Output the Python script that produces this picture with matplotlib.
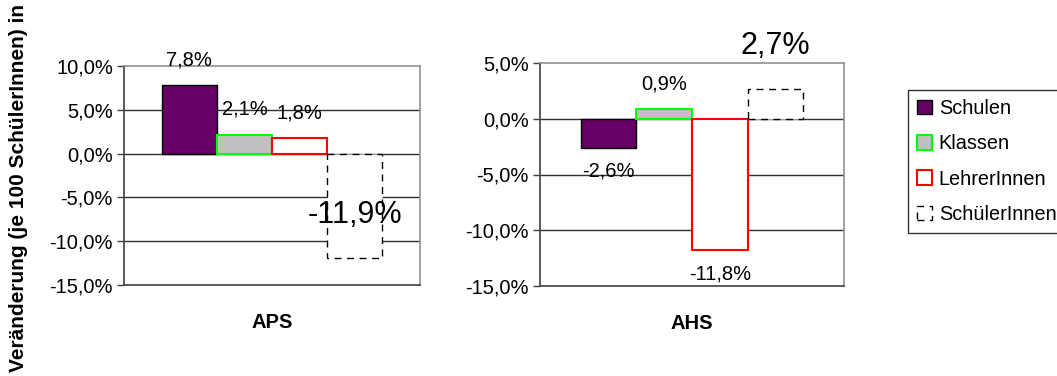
import matplotlib
matplotlib.use("Agg")
import matplotlib.pyplot as plt
from matplotlib.patches import Patch

plt.rcParams["font.family"] = ["Liberation Sans", "DejaVu Sans"]

# ---- data ----
series = ["Schulen", "Klassen", "LehrerInnen", "SchülerInnen"]
aps_values = [7.8, 2.1, 1.8, -11.9]
ahs_values = [-2.6, 0.9, -11.8, 2.7]
aps_labels = ["7,8%", "2,1%", "1,8%", "-11,9%"]
ahs_labels = ["-2,6%", "0,9%", "-11,8%", "2,7%"]
aps_yticks = [10, 5, 0, -5, -10, -15]
ahs_yticks = [5, 0, -5, -10, -15]
ylabel = "Veränderung (je 100 SchülerInnen) in %"

# ---- styles ----
BAR_STYLE = [
    dict(facecolor="#660066", edgecolor="black", linewidth=1.0, linestyle="-"),
    dict(facecolor="#C0C0C0", edgecolor="#00FF00", linewidth=1.5, linestyle="-"),
    dict(facecolor="white", edgecolor="#FF0000", linewidth=1.5, linestyle="-"),
    dict(facecolor="white", edgecolor="black", linewidth=1.0, linestyle=(0, (5, 4))),
]
FS = 14.5


def fmt_pct(v):
    return f"{v:.1f}%".replace(".", ",")


def draw_panel(ax, values, labels, yticks, cat, bar_w, offsets, sizes):
    for i, (v, st) in enumerate(zip(values, BAR_STYLE)):
        x = (i - 1.5) * bar_w
        ax.bar(x, v, width=bar_w, zorder=3, **st)
        ax.annotate(labels[i], (x, v), xytext=(0, offsets[i]),
                    textcoords="offset points", ha="center", va="center",
                    fontsize=sizes[i], zorder=5)
    ax.set_xlim(-0.5, 0.5)
    ax.set_ylim(min(yticks), max(yticks))
    ax.set_yticks(yticks)
    ax.set_yticklabels([fmt_pct(t) for t in yticks], fontsize=FS)
    ax.set_xticks([0])
    ax.set_xticklabels([cat], fontsize=FS, fontweight="bold")
    ax.tick_params(axis="x", length=0, pad=20)
    ax.tick_params(axis="y", length=5, width=1, color="#404040", pad=3)
    for t in yticks[1:-1]:
        ax.axhline(t, color="#303030", linewidth=1.0, zorder=1)
    for side in ["top", "right"]:
        ax.spines[side].set_color("#909090")
        ax.spines[side].set_linewidth(1.2)
    for side in ["left", "bottom"]:
        ax.spines[side].set_color("#404040")
        ax.spines[side].set_linewidth(1.2)


fig = plt.figure(figsize=(10.57, 3.76), dpi=100)

ax1 = fig.add_axes([124 / 1057, 91 / 376, 296 / 1057, 219 / 376])
draw_panel(ax1, aps_values, aps_labels, aps_yticks, "APS", 0.186,
           [18, 19, 18, 31], [FS, FS, FS, 22])

ax2 = fig.add_axes([540 / 1057, 90 / 376, 304 / 1057, 223 / 376])
draw_panel(ax2, ahs_values, ahs_labels, ahs_yticks, "AHS", 0.183,
           [-17, 18, -17, 31], [FS, FS, FS, 22])

# label is wider than the figure, cut at both ends as in the original
fig.text(19 / 1057, 1 - 176 / 376, ylabel, rotation=90, ha="center",
         va="center", fontsize=15, fontweight="bold")

handles = [Patch(label=s, **st) for s, st in zip(series, BAR_STYLE)]
fig.legend(handles=handles, loc="upper left",
           bbox_to_anchor=(908 / 1057, 1 - 90 / 376), fontsize=14.3,
           frameon=True, fancybox=False, edgecolor="black",
           handlelength=0.75, handleheight=0.75, handletextpad=0.35,
           labelspacing=0.82, borderpad=0.45, borderaxespad=0)

fig.savefig("out.png", dpi=100)
